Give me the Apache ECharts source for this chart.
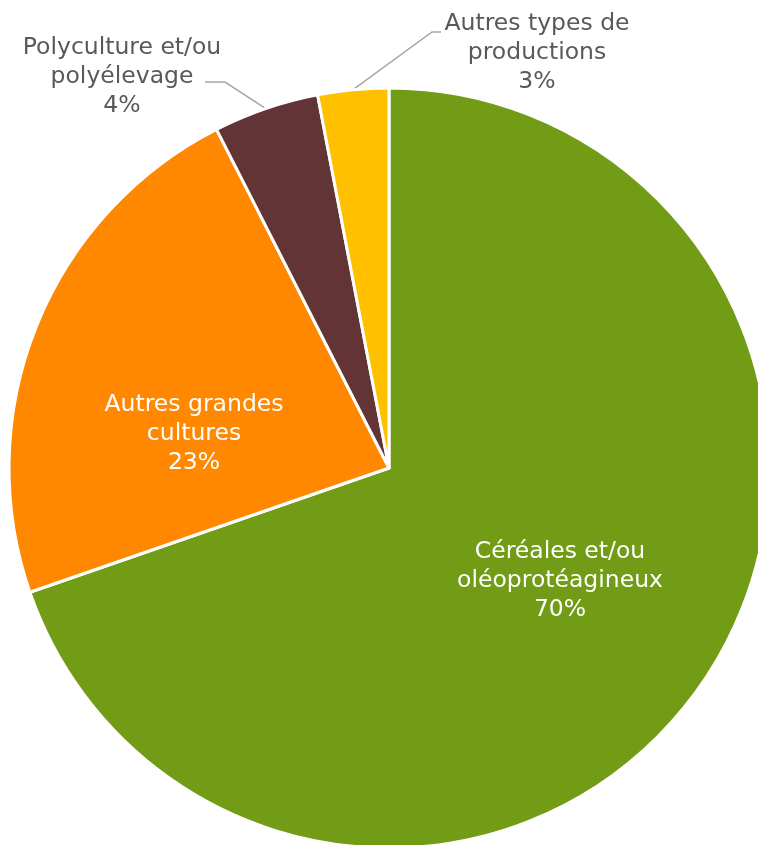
<!DOCTYPE html>
<html>
<head>
<meta charset="utf-8">
<script src="https://cdn.jsdelivr.net/npm/echarts@6/dist/echarts.min.js"></script>
<style>
html,body{margin:0;padding:0;background:#fff;}
#chart{width:758px;height:845px;}
</style>
</head>
<body>
<div id="chart"></div>
<script>
var categories = ["Céréales et/ou\noléoprotéagineux", "Autres grandes\ncultures", "Polyculture et/ou\npolyélevage", "Autres types de\nproductions"];
var values = [69.7, 22.8, 4.49, 3.01];
var colors = ["#729B16", "#FF8800", "#633435", "#FFC000"];

var chart = echarts.init(document.getElementById('chart'), null, {renderer: 'canvas'});
var FONT = "DejaVu Sans";
var data = categories.map(function (c, i) {
  var inside = i < 2;
  return {
    name: c,
    value: values[i],
    itemStyle: {color: colors[i]},
    label: {
      position: inside ? 'inside' : 'outside',
      color: inside ? '#ffffff' : '#595959'
    },
    labelLine: {show: !inside}
  };
});

// label anchor positions (text centers)
var labelPos = [[560, 581], [194, 434], [122, 77], [537, 53]];

chart.setOption({
  backgroundColor: '#ffffff',
  animation: false,
  series: [{
    type: 'pie',
    center: [389, 468],
    radius: 380,
    startAngle: 90,
    clockwise: true,
    data: data,
    itemStyle: {borderColor: '#ffffff', borderWidth: 3},
    label: {
      show: true,
      fontFamily: FONT,
      fontSize: 23.5,
      lineHeight: 29,
      align: 'center',
      overflow: 'none',
      formatter: function (p) { return p.name + '\n' + Math.round(p.percent) + '%'; }
    },
    labelLine: {
      show: true,
      length: 20,
      length2: 20,
      lineStyle: {color: '#A6A6A6', width: 1.5}
    },
    labelLayout: function (p) {
      var i = p.dataIndex;
      var pos = labelPos[i];
      var res = {x: pos[0], y: pos[1], align: 'center', verticalAlign: 'middle'};
      if (p.labelLinePoints) {
        var a = p.labelLinePoints[0];
        if (i === 2) {
          res.labelLinePoints = [a, [225, 82], [205, 82]];
        } else if (i === 3) {
          res.labelLinePoints = [a, [432, 32], [441, 32]];
        }
      }
      return res;
    }
  }]
});
</script>
</body>
</html>
